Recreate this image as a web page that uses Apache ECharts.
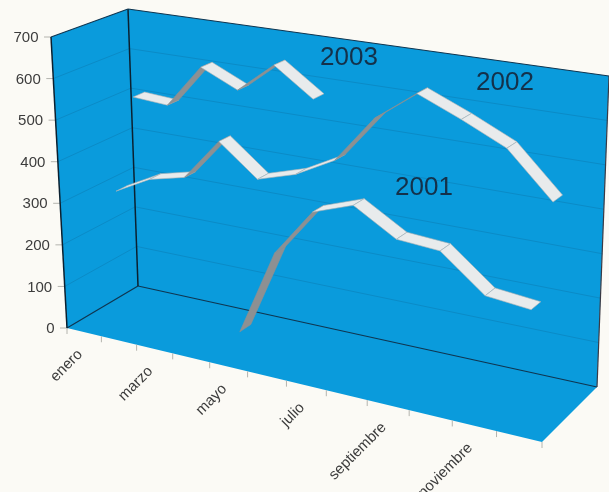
<!DOCTYPE html><html><head><meta charset="utf-8"><style>html,body{margin:0;background:#fbfaf5}#c{width:609px;height:492px}</style>
<script src="https://cdn.jsdelivr.net/npm/echarts@6/dist/echarts.min.js"></script></head><body><div id="c"></div><script>
var months=['enero','febrero','marzo','abril','mayo','junio','julio','agosto','septiembre','octubre','noviembre','diciembre'];
var valueTicks=[0,100,200,300,400,500,600,700];
var values2001=[null,null,null,null,61,262,374,407,349,342,263,253];
var values2002=[291,336,357,459,385,413,462,575,647,604,556,454];
var values2003=[500,494,601,559,633,566,null,null,null,null,null,null];

var W=609,HT=492;
var floorQuad=[[67,328],[542,442],[597,387],[138,286]],topQuad=[[51,37],[547,115],[609,76],[128,9]];
function homography(q){var x0=q[0][0],y0=q[0][1],x1=q[1][0],y1=q[1][1],x2=q[2][0],y2=q[2][1],x3=q[3][0],y3=q[3][1];
var dx1=x1-x2,dx2=x3-x2,dx3=x0-x1+x2-x3,dy1=y1-y2,dy2=y3-y2,dy3=y0-y1+y2-y3,den=dx1*dy2-dx2*dy1;
var g=(dx3*dy2-dx2*dy3)/den,h=(dx1*dy3-dx3*dy1)/den,a=x1-x0+g*x1,b=x3-x0+h*x3,d=y1-y0+g*y1,e=y3-y0+h*y3;
return function(u,v){var w=g*u+h*v+1;return[(a*u+b*v+x0)/w,(d*u+e*v+y0)/w];};}
var hf=homography(floorQuad),ht=homography(topQuad);
// box projection: u along months, v into depth, z up the value axis (all 0..1)
function proj(u,v,z){var f=hf(u,v),t=ht(u,v);return[f[0]+(t[0]-f[0])*z,f[1]+(t[1]-f[1])*z];}
function norm(p){return[p[0]/W,(HT-p[1])/HT];}
var paper='#fbfaf5',wall='#0a9bdc',gridCol='#0a8bc7',edge='#0f3550';
var labelFont='15px "Liberation Sans", Arial, sans-serif';

function line(a,b,col,w){return{type:'line',shape:{x1:a[0],y1:a[1],x2:b[0],y2:b[1]},style:{stroke:col,lineWidth:w}};}

function renderFrame(params,api){
  var c=[];
  var poly=[proj(0,0,0),proj(1,0,0),proj(1,1,0),proj(1,1,1),proj(0,1,1),proj(0,0,1)];
  c.push({type:'polygon',shape:{points:poly},style:{fill:wall}});
  valueTicks.forEach(function(t){
    var z=norm(api.coord([0,t]))[1];
    if(t>0&&t<700){
      c.push({type:'polyline',shape:{points:[proj(0,0,z),proj(0,1,z),proj(1,1,z)]},style:{stroke:gridCol,lineWidth:1,fill:null}});
    }
    var p=proj(0,0,z);
    c.push(line([p[0]-7,p[1]],p,'#b4b4ae',1));
    c.push({type:'text',x:p[0]-12.5,y:p[1]+1,style:{text:String(t),align:'right',verticalAlign:'middle',font:labelFont,fill:'#3c3c3c'}});
  });
  c.push(line(proj(0,0,0),proj(0,1,0),edge,1.2));
  c.push(line(proj(0,1,0),proj(1,1,0),edge,1.2));
  c.push(line(proj(0,1,0),proj(0,1,1),'#0b2030',1.5));
  c.push(line(proj(0,0,0),proj(0,0,1),'#0b2030',1.5));
  c.push(line(proj(0,0,1),proj(0,1,1),edge,1.2));
  c.push(line(proj(0,1,1),proj(1,1,1),edge,1.2));
  c.push(line(proj(1,1,0),proj(1,1,1),'#3a3a44',1.2));
  for(var i=0;i<=months.length;i++){var q=proj(i/months.length,0,0);c.push(line(q,[q[0],q[1]+6],'#b4b4ae',1));}
  months.forEach(function(m,i){ if(i%2)return;
    var u=norm(api.coord([i,0]))[0],q=proj(u,0,0);
    c.push({type:'text',x:q[0]-4,y:q[1]+20,rotation:Math.PI/4,style:{text:m,align:'right',verticalAlign:'middle',font:labelFont,fill:'#3c3c3c'}});
  });
  return{type:'group',children:c};
}
function ribbon(values,front,width){return function(params,api){
  var i=api.value(0);
  var n=values[i+1];
  if(n===null||n===undefined||values[i]===null)return null;
  var a=norm(api.coord([i,values[i]])),b=norm(api.coord([i+1,n]));
  var v0=front,v1=front+width;
  var p=[proj(a[0],v0,a[1]),proj(b[0],v0,b[1]),proj(b[0],v1,b[1]),proj(a[0],v1,a[1])];
  var ex=p[1][0]-p[0][0],ey=p[1][1]-p[0][1],dx=p[3][0]-p[0][0],dy=p[3][1]-p[0][1];
  var under=ex*dy-ey*dx>0;
  return{type:'polygon',shape:{points:p},style:{fill:under?'#8d9092':'#e8ebec',stroke:under?'#8d9092':'#a9b2b6',lineWidth:.6}};
};}
function rows(values){return months.map(function(m,i){return[i,values[i]];});}
var chart=echarts.init(document.getElementById('c'));
chart.setOption({
  animation:false,backgroundColor:paper,
  grid:{left:0,right:0,top:0,bottom:0},
  xAxis:{type:'category',data:months,show:false},
  yAxis:{type:'value',min:0,max:700,interval:100,show:false},
  series:[
    {type:'custom',name:'frame',renderItem:renderFrame,data:[[0,0]],silent:true,z:1,clip:false},
    {type:'custom',name:'2003',renderItem:ribbon(values2003,.80,.16),data:rows(values2003),z:2,clip:false,encode:{x:0,y:1}},
    {type:'custom',name:'2002',renderItem:ribbon(values2002,.515,.16),data:rows(values2002),z:3,clip:false,encode:{x:0,y:1}},
    {type:'custom',name:'2001',renderItem:ribbon(values2001,.18,.16),data:rows(values2001),z:4,clip:false,encode:{x:0,y:1}}
  ],
  graphic:[
    {type:'text',z:100,x:349,y:58,style:{text:'2003',align:'center',verticalAlign:'middle',font:'26px "Liberation Sans", Arial, sans-serif',fill:'#14314a'}},
    {type:'text',z:100,x:505,y:83,style:{text:'2002',align:'center',verticalAlign:'middle',font:'26px "Liberation Sans", Arial, sans-serif',fill:'#14314a'}},
    {type:'text',z:100,x:424,y:188,style:{text:'2001',align:'center',verticalAlign:'middle',font:'26px "Liberation Sans", Arial, sans-serif',fill:'#14314a'}}
  ]
});
</script></body></html>
